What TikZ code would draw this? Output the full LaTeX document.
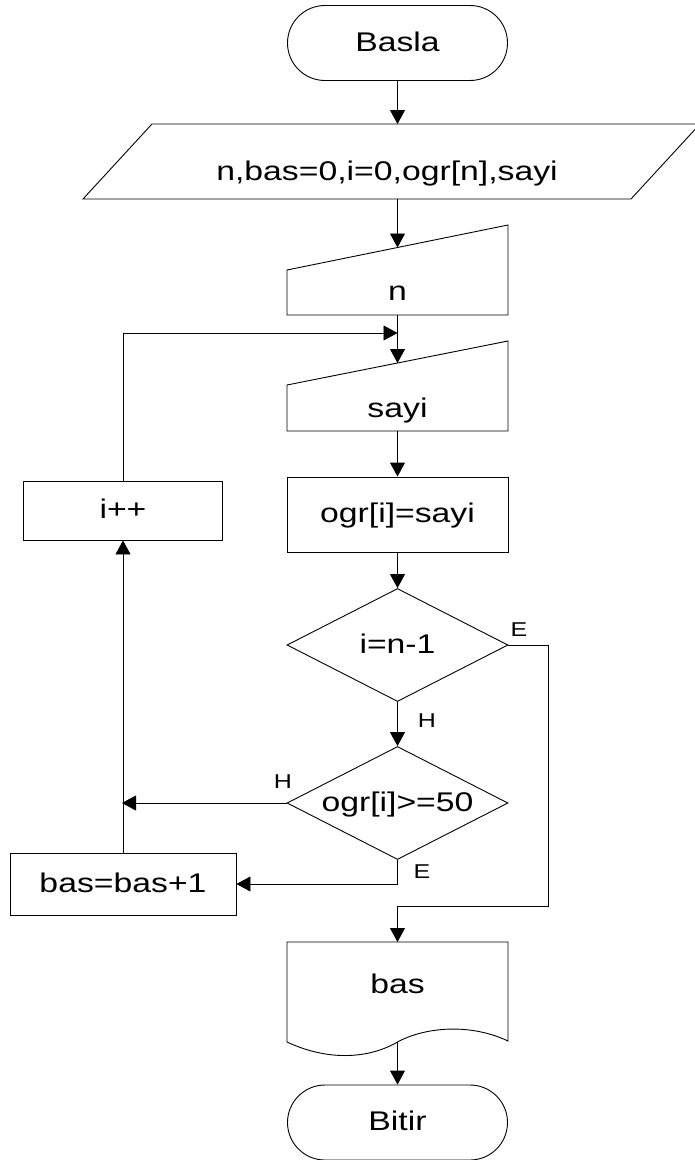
\documentclass[tikz,border=0pt]{standalone}
\usepackage{fontspec}
\setmainfont[FakeStretch=1.25]{Liberation Sans}
\usetikzlibrary{arrows.meta,shapes.geometric,shapes.misc}

\tikzset{
  cizgi/.style={line width=0.9pt},
  akis/.style={cizgi, -{Triangle[length=14pt,width=15pt]}},
  metin/.style={text height=20pt, text depth=4pt, inner sep=0pt},
  terminal/.style={rounded rectangle, draw, cizgi, metin, minimum width=220pt, minimum height=75pt},
  islem/.style={rectangle, draw, cizgi, metin},
  karar/.style={diamond, draw, cizgi, metin, aspect=2, minimum width=221pt, minimum height=113pt},
  etiket/.style={font=\fontsize{20}{22}\selectfont, anchor=base, inner sep=0pt},
}

\begin{document}
\begin{tikzpicture}[x=1pt, y=-1pt, font=\fontsize{27}{30}\selectfont]
    \useasboundingbox (0,0) rectangle (695,1160);

    % Basla
    \node[terminal] (basla) at (397.5,43) {Basla};

    % Tanimlar (paralelkenar)
    \draw[cizgi] (152,124) -- (700,124) -- (631,199) -- (83,199) -- cycle;
    \node[anchor=base, inner sep=0pt] (tanim) at (387,180) {n,bas=0,i=0,ogr[n],sayi};
    \coordinate (tanimUst) at (397.5,124);
    \coordinate (tanimAlt) at (397.5,199);

    % Klavyeden n
    \draw[cizgi] (287,270) -- (508,225) -- (508,315) -- (287,315) -- cycle;
    \node[anchor=base, inner sep=0pt] (girisN) at (397.5,300) {n};
    \coordinate (nUst) at (397.5,247.5);
    \coordinate (nAlt) at (397.5,315);

    % Klavyeden sayi
    \draw[cizgi] (287,385) -- (508,341) -- (508,431) -- (287,431) -- cycle;
    \node[anchor=base, inner sep=0pt] (girisSayi) at (397.5,417) {sayi};
    \coordinate (sayiUst) at (397.5,363);
    \coordinate (sayiAlt) at (397.5,431);
    \coordinate (dongu) at (397.5,333);

    % Islemler
    \node[islem, minimum width=221pt, minimum height=75pt] (atama) at (397.5,514.5) {ogr[i]=sayi};
    \node[islem, minimum width=199pt, minimum height=59pt] (ipp) at (123,510.5) {i++};
    \node[islem, minimum width=226pt, minimum height=62pt] (arttir) at (123,884) {bas=bas+1};

    % Kararlar
    \node[karar] (kosul1) at (397.5,645) {i=n-1};
    \node[karar] (kosul2) at (397.5,803) {ogr[i]>=50};

    % Cikti (belge)
    \draw[cizgi] (287,942) -- (287,1042)
        .. controls (330,1062) and (370,1058) .. (397.5,1042)
        .. controls (425,1027) and (470,1023) .. (508,1041) -- (508,942) -- cycle;
    \node[anchor=base, inner sep=0pt] (cikti) at (397.5,993) {bas};
    \coordinate (belgeUst) at (397.5,942);
    \coordinate (belgeAlt) at (397.5,1042);

    % Bitir
    \node[terminal] (bitir) at (397.5,1122.5) {Bitir};

    % Baglantilar
    \coordinate (sagKose) at (548,906);
    \coordinate (birlesme) at (397.5,906);
    \coordinate (donus) at (122,803);

    \draw[akis] (basla) -- (tanimUst);
    \draw[akis] (tanimAlt) -- (nUst);
    \draw[akis] (nAlt) -- (sayiUst);
    \draw[akis] (sayiAlt) -- (atama);
    \draw[akis] (atama) -- (kosul1);
    \draw[akis] (kosul1) -- (kosul2);
    \draw[akis] (kosul1.east) -| (sagKose) -- (birlesme) -- (belgeUst);
    \draw[akis] (kosul2.west) -- (donus);
    \draw[akis] (kosul2.south) |- (arttir.east);
    \draw[akis] (arttir.north) -- (ipp.south);
    \draw[akis] (ipp.north) |- (dongu);
    \draw[akis] (belgeAlt) -- (bitir);

    % Etiketler
    \node[etiket] (e1) at (519,636) {E};
    \node[etiket] (h1) at (427,727) {H};
    \node[etiket] (h2) at (283,788) {H};
    \node[etiket] (e2) at (422,878) {E};

\end{tikzpicture}
\end{document}
